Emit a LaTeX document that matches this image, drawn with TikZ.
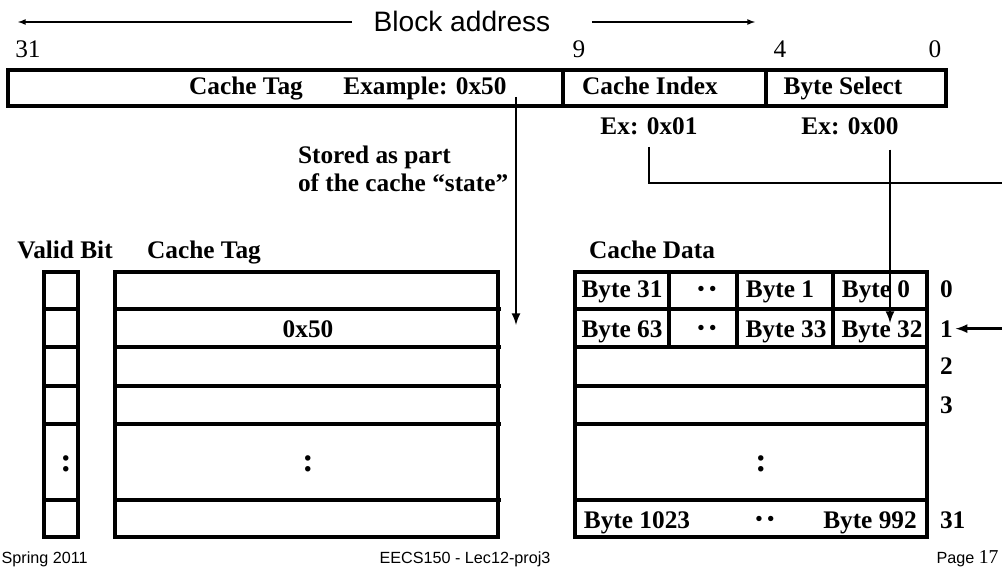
\documentclass[tikz,border=0pt]{standalone}
\usepackage{fontspec}
\setmainfont{Liberation Serif}
\setsansfont{Liberation Sans}
\usetikzlibrary{arrows,positioning,calc}

\newcommand{\twodots}{\raisebox{1.5pt}{\fontsize{14}{14}\selectfont\textbullet\hspace{.25em}\textbullet}}
\newcommand{\vdotpair}{{\fontsize{24}{24}\selectfont :}}

\begin{document}
\begin{tikzpicture}[x=0.025cm,y=-0.025cm,line width=.8mm,>=latex,
    txt/.style={font=\fontsize{18}{20.5}\selectfont\bfseries,inner sep=1pt,anchor=base},
    num/.style={font=\fontsize{18}{19}\selectfont,inner sep=1pt,anchor=base},
    foot/.style={font=\sffamily\fontsize{11.5}{13}\selectfont,inner sep=0pt},
    wire/.style={line width=.65mm}]

      \path[use as bounding box,clip] (0,0) rectangle (1002,571);

      % address fields
      \node[font=\sffamily\fontsize{20}{22}\selectfont,inner sep=0pt] (blk) at (462,21) {Block address};
      \coordinate (lftend) at (18,22);
      \coordinate (rgtend) at (755,22);
      \draw[line width=.3mm,->] (blk.west) ++(-20,1) -- (lftend);
      \draw[line width=.3mm,->] (blk.east) ++(40,1) -- (rgtend);

      \node[num] (b31) at ( 28,58) {31};
      \node[num] (b9)  at (579,58) {9};
      \node[num] (b4)  at (780,58) {4};
      \node[num] (b0)  at (935,58) {0};

      \draw (  8,70) rectangle (946,106);
      \draw (563,70) -- (563,106);
      \draw (766,70) -- (766,106);

      \node[txt] (tagf)  at (246,95) {Cache Tag};
      \node[txt] (tagex) at (425,95) {Example: 0x50};
      \node[txt] (idxf)  at (650,95) {Cache Index};
      \node[txt] (bytef) at (843,95) {Byte Select};

      \node[txt] (ex01) at (649,135) {Ex: 0x01};
      \node[txt] (ex00) at (850,135) {Ex: 0x00};

      \node[txt,anchor=base west,align=left] (stored) at (295,192) {Stored as part\\of the cache ``state''};

      % headers
      \node[txt] (vhead) at ( 65,259) {Valid Bit};
      \node[txt] (thead) at (204,259) {Cache Tag};
      \node[txt] (dhead) at (652,259) {Cache Data};

      % valid bits
      \draw ( 44,272) rectangle ( 78,537);
      \foreach \y in {309,347,386,424,500}
        \draw ( 42,\y) -- ( 80,\y);

      % cache tags
      \draw (115,272) rectangle (498,537);
      \foreach \y in {309,347,386,424,500}
        \draw (113,\y) -- (501,\y);

      % cache data
      \draw (575,272) rectangle (927,537);
      \foreach \y in {309,347,386,424,500}
        \draw (575,\y) -- (927,\y);
      \foreach \x in {669,737,833}
        \draw (\x,272) -- (\x,347);

      \node[txt] (d31)   at (622,298) {Byte 31};
      \node[txt] (dd0)   at (707,298) {\twodots};
      \node[txt] (d1)    at (780,298) {Byte 1};
      \node[txt] (d0)    at (876,298) {Byte 0};

      \node[txt] (d63)   at (622,337) {Byte 63};
      \node[txt] (dd1)   at (707,337) {\twodots};
      \node[txt] (d33)   at (786,337) {Byte 33};
      \node[txt] (d32)   at (882,337) {Byte 32};

      \node[txt] (d1023) at (637,528) {Byte 1023};
      \node[txt] (dd31)  at (765,528) {\twodots};
      \node[txt] (d992)  at (870,528) {Byte 992};

      \node[txt] (tag1)  at (308,337) {0x50};
      \node[txt] (vdots) at ( 66,471) {\vdotpair};
      \node[txt] (tdots) at (308,471) {\vdotpair};
      \node[txt] (ddots) at (761,471) {\vdotpair};

      \node[txt,anchor=base west] (r0)  at (937,298) {0};
      \node[txt,anchor=base west] (r1)  at (937,337) {1};
      \node[txt,anchor=base west] (r2)  at (937,375) {2};
      \node[txt,anchor=base west] (r3)  at (937,413) {3};
      \node[txt,anchor=base west] (r31) at (937,528) {31};

      % connections
      \coordinate (tagsrc) at (516,97);
      \coordinate (tagdst) at (516,325);
      \draw[wire,->] (tagsrc) -- (tagdst);

      \coordinate (bsdst) at (890,323);
      \draw[wire,->,shorten <=8] (ex00.south -| bsdst) -- (bsdst);

      \coordinate (turn) at (1012,183);
      \draw[wire,->,shorten <=6] (ex01.south) |- (turn) |- (r1.east);

      % footer
      \node[foot,anchor=base west] (spring) at (0,563) {Spring 2011};
      \node[foot,anchor=base] (lec) at (465,563) {EECS150 - Lec12-proj3};
      \node[foot,anchor=base west] (page) at (935,563) {Page {\rmfamily\fontsize{14}{15}\selectfont 17}};

    \end{tikzpicture}
\end{document}
